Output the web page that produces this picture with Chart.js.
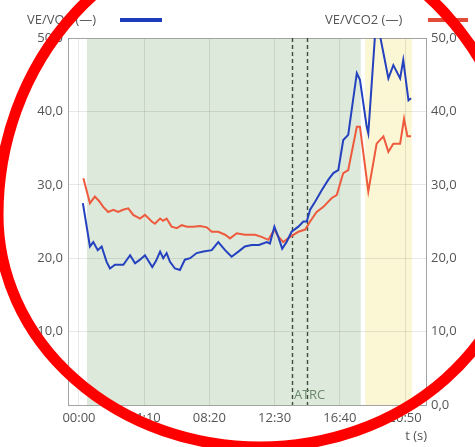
<!DOCTYPE html>
<html>
<head>
<meta charset="utf-8">
<script src="https://cdn.jsdelivr.net/npm/chart.js@4"></script>
<style>
  html, body { margin: 0; padding: 0; background: #fff; }
  #wrap { width: 475px; height: 447px; position: relative; }
</style>
</head>
<body>
<div id="wrap"><canvas id="c" width="475" height="447"></canvas></div>
<script>
// Time ticks (seconds) and ratio ticks
const timeTicks = [0, 250, 500, 750, 1000, 1250];
const ratioMin = 0;
const ratioMax = 50;
const ratioStep = 10;

// VE/VO2 over time (s)
const timesVO2 = [15, 42, 55, 72, 87, 106, 119, 138, 170, 196, 215, 234, 253, 281, 295,
  311, 323, 336, 349, 368, 387, 406, 426, 451, 477, 509, 534, 560, 585, 611,
  636, 662, 690, 720, 732, 749, 763, 779, 796, 815, 841, 860, 873, 886, 905,
  931, 956, 975, 994, 1013, 1032, 1065, 1077, 1103, 1109, 1135, 1154, 1186, 1205, 1231,
  1243, 1263, 1273];
const veVO2 = [27.5, 21.6, 22.2, 21.1, 21.6, 19.5, 18.6, 19.1, 19.1, 20.4, 19.3, 19.8, 20.4, 18.8, 19.6,
  20.9, 20.0, 20.7, 19.5, 18.6, 18.4, 19.8, 20.0, 20.7, 20.9, 21.1, 22.2, 21.1, 20.2, 20.9,
  21.6, 21.8, 21.8, 22.2, 22.0, 24.3, 23.0, 21.3, 22.2, 23.6, 24.3, 25.0, 25.0, 26.6, 27.7,
  29.3, 30.7, 31.6, 32.0, 36.1, 36.8, 45.2, 44.3, 37.9, 37.0, 50.5, 50.3, 44.5, 46.3, 44.5,
  47.0, 41.5, 41.8];

// VE/VCO2 over time (s)
const timesVCO2 = [17, 42, 61, 77, 93, 112, 132, 150, 169, 189, 208, 234, 253, 279, 291,
  311, 322, 336, 355, 375, 394, 414, 438, 464, 490, 509, 534, 560, 579, 605,
  636, 675, 700, 726, 749, 763, 783, 809, 841, 867, 886, 911, 937, 969, 988,
  1013, 1032, 1065, 1077, 1109, 1141, 1167, 1186, 1205, 1231, 1246, 1259, 1273];
const veVCO2 = [30.9, 27.5, 28.4, 27.8, 27.0, 26.3, 26.6, 26.3, 26.6, 26.8, 25.9, 25.4, 25.9, 25.0, 24.7,
  25.4, 25.1, 25.4, 24.3, 24.1, 24.5, 24.3, 24.3, 24.4, 24.2, 23.6, 23.6, 23.2, 22.7, 23.4,
  23.2, 23.2, 22.9, 22.5, 23.9, 23.0, 22.2, 22.9, 23.6, 23.9, 25.0, 26.3, 27.0, 28.2, 28.6,
  31.6, 32.0, 37.9, 37.9, 29.1, 35.6, 36.6, 34.5, 35.6, 35.6, 39.0, 36.6, 36.6];

// Exercise phases (s) and ventilatory thresholds (s)
const aerobicZone = [31, 1080];
const maximalZone = [1097, 1276];
const thresholdTimes = [817, 874];
const thresholdLabels = ['AT', 'RC'];
const seriesLabels = ['VE/VO2 (—)', 'VE/VCO2 (—)'];
const timeAxisTitle = 't (s)';

const BLUE = '#2441bf';
const RED = '#ee5a3e';
const TEXT = '#555555';
const FONT = '"Open Sans", "DejaVu Sans", sans-serif';

function fmtTime(sec) {
  const m = Math.floor(sec / 60), s = Math.round(sec % 60);
  return String(m).padStart(2, '0') + ':' + String(s).padStart(2, '0');
}
function fmtRatio(v) {
  return Number(v).toFixed(1).replace('.', ',');
}
function toPoints(ts, vs) {
  return ts.map((t, i) => ({ x: t, y: vs[i] }));
}

// egg-shaped marker ring: taller upper half, shorter lower half
function ringPath(ctx) {
  const cx = 260, cy = 215, rx = 262, ryTop = 285, ryBottom = 232;
  ctx.beginPath();
  ctx.ellipse(cx, cy, rx, ryTop, 0, Math.PI, Math.PI * 2);
  ctx.ellipse(cx, cy, rx, ryBottom, 0, 0, Math.PI);
  ctx.closePath();
}

const decor = {
  id: 'decor',
  beforeDraw(chart) {
    const { ctx, chartArea: a, scales: { x } } = chart;
    ctx.save();
    const band = (r, color) => {
      const x0 = x.getPixelForValue(r[0]);
      const x1 = x.getPixelForValue(r[1]);
      ctx.fillStyle = color;
      ctx.fillRect(x0, a.top, x1 - x0, a.bottom - a.top);
    };
    band(aerobicZone, '#dde9da');
    band(maximalZone, '#fbf6d4');
    ctx.restore();
  },
  beforeDatasetsDraw(chart) {
    const { ctx, chartArea: a, scales: { x } } = chart;
    ctx.save();
    // frame
    ctx.strokeStyle = '#a3a3a3';
    ctx.lineWidth = 1;
    ctx.strokeRect(a.left + 0.5, a.top + 0.5, a.right - a.left - 1, a.bottom - a.top);
    // threshold markers
    ctx.setLineDash([4, 3]);
    ctx.strokeStyle = '#3d4d3d';
    ctx.lineWidth = 1.4;
    thresholdTimes.forEach(t => {
      const px = Math.round(x.getPixelForValue(t)) + 0.5;
      ctx.beginPath();
      ctx.moveTo(px, a.top);
      ctx.lineTo(px, a.bottom);
      ctx.stroke();
    });
    ctx.setLineDash([]);
    ctx.fillStyle = '#6d8a6f';
    ctx.font = '13px ' + FONT;
    ctx.textBaseline = 'middle';
    ctx.textAlign = 'left';
    thresholdTimes.forEach((t, i) => {
      ctx.fillText(thresholdLabels[i], x.getPixelForValue(t) + 2, a.bottom - 10);
    });
    ctx.restore();
  },
  afterDraw(chart) {
    const { ctx, chartArea: a } = chart;
    ctx.save();
    ctx.font = '13px ' + FONT;
    ctx.fillStyle = TEXT;
    ctx.textBaseline = 'middle';
    // series keys
    ctx.textAlign = 'left';
    ctx.fillText(seriesLabels[0], 27, 20);
    ctx.fillText(seriesLabels[1], 325, 20);
    ctx.lineWidth = 4;
    ctx.strokeStyle = '#1b3db9';
    ctx.beginPath(); ctx.moveTo(120, 20); ctx.lineTo(162, 20); ctx.stroke();
    ctx.strokeStyle = '#e24b38';
    ctx.beginPath(); ctx.moveTo(428, 20); ctx.lineTo(468, 20); ctx.stroke();
    // time axis title
    ctx.textAlign = 'right';
    ctx.fillStyle = TEXT;
    ctx.fillText(timeAxisTitle, a.right, 436);
    // red marker ring
    ctx.strokeStyle = '#ff0000';
    ctx.lineWidth = 11;
    ringPath(ctx);
    ctx.stroke();
    ctx.restore();
  }
};

new Chart(document.getElementById('c'), {
  type: 'line',
  data: {
    datasets: [
      {
        label: seriesLabels[0],
        data: toPoints(timesVO2, veVO2),
        borderColor: BLUE,
        borderWidth: 2,
        pointRadius: 0,
        tension: 0,
        yAxisID: 'y'
      },
      {
        label: seriesLabels[1],
        data: toPoints(timesVCO2, veVCO2),
        borderColor: RED,
        borderWidth: 2,
        pointRadius: 0,
        tension: 0,
        yAxisID: 'y2'
      }
    ]
  },
  options: {
    responsive: false,
    animation: false,
    events: [],
    layout: { padding: { top: 38, left: 0, right: 0, bottom: 0 } },
    plugins: { legend: { display: false }, tooltip: { enabled: false } },
    scales: {
      x: {
        type: 'linear',
        min: -42,
        max: 1334,
        afterBuildTicks: s => { s.ticks = timeTicks.map(v => ({ value: v })); },
        afterFit: s => { s.height = 42; },
        grid: { color: 'rgba(0,0,0,0.09)', drawTicks: false },
        border: { display: false },
        ticks: {
          callback: v => fmtTime(v),
          color: TEXT,
          font: { size: 13, family: FONT },
          padding: 5,
          maxRotation: 0,
          autoSkip: false
        }
      },
      y: {
        position: 'left',
        min: ratioMin,
        max: ratioMax,
        afterFit: s => { s.width = 68; },
        grid: { color: 'rgba(0,0,0,0.09)', drawTicks: false },
        border: { display: false },
        ticks: {
          stepSize: ratioStep,
          callback: v => (v === ratioMin ? '' : fmtRatio(v)),
          color: TEXT,
          font: { size: 13, family: FONT },
          padding: 5
        }
      },
      y2: {
        position: 'right',
        min: ratioMin,
        max: ratioMax,
        afterFit: s => { s.width = 48; },
        grid: { display: false, drawTicks: false },
        border: { display: false },
        ticks: {
          stepSize: ratioStep,
          callback: v => fmtRatio(v),
          color: TEXT,
          font: { size: 13, family: FONT },
          padding: 4
        }
      }
    }
  },
  plugins: [decor]
});
</script>
</body>
</html>
